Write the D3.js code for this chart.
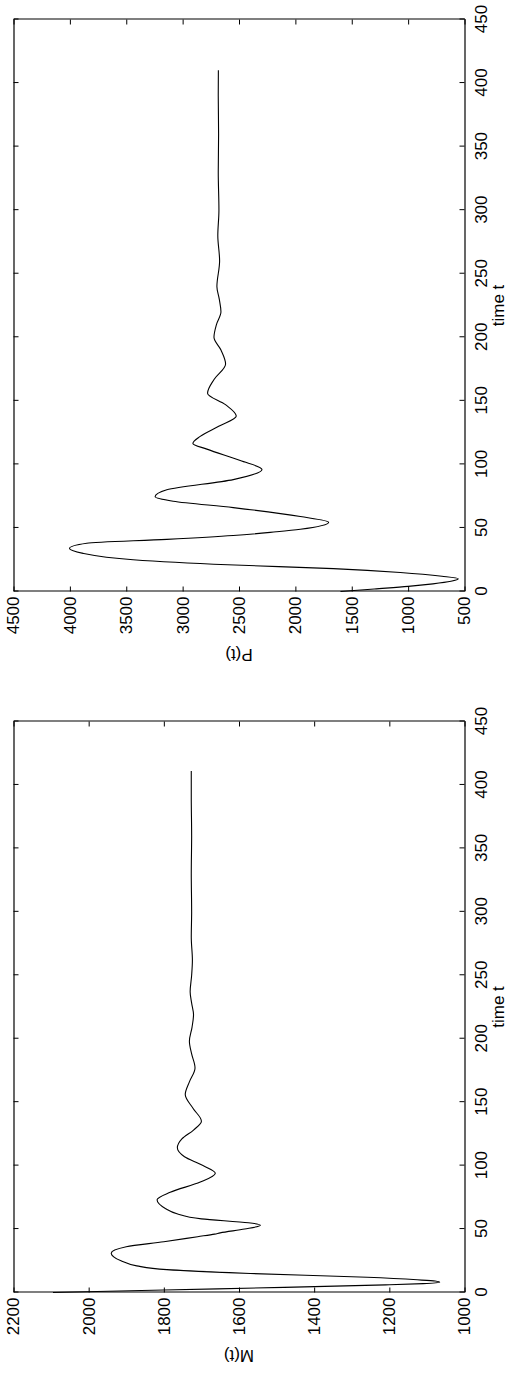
<!DOCTYPE html>
<html>
<head>
<meta charset="utf-8">
<script src="https://cdn.jsdelivr.net/npm/d3@7"></script>
<style>
  body { margin: 0; background: #fff; }
  svg { display: block; }
</style>
</head>
<body>
<script>
// time ticks shared by both panels
const timeTicks = [0, 50, 100, 150, 200, 250, 300, 350, 400, 450];
const mTicks = [1000, 1200, 1400, 1600, 1800, 2000, 2200];
const pTicks = [500, 1000, 1500, 2000, 2500, 3000, 3500, 4000, 4500];

// M(t)
const mTime = [0, 2, 4, 6, 7, 8, 9, 10, 12, 15, 18, 21, 25, 31, 36, 40, 44, 46, 47, 50, 53, 55, 58, 62, 66, 73, 79, 87, 94, 101, 107, 114, 121, 128, 135, 145, 156, 166, 177, 188, 198, 209, 219, 228, 237, 250, 262, 280, 300, 330, 360, 390, 411];
const mValues = [2095, 1800, 1480, 1210, 1110, 1066, 1078, 1126, 1259, 1570, 1792, 1872, 1914, 1940, 1900, 1800, 1710, 1665, 1650, 1585, 1543, 1575, 1700, 1765, 1795, 1818, 1783, 1703, 1663, 1703, 1745, 1764, 1752, 1721, 1700, 1722, 1743, 1732, 1717, 1726, 1732, 1725, 1721, 1726, 1730, 1726, 1724, 1727, 1726, 1727, 1726, 1727, 1727];

// P(t)
const pTime = [0, 2, 4, 6, 8, 10, 12, 15, 18, 21, 25, 30, 34, 38, 41, 44, 47, 49, 54.5, 59, 66, 71, 74.5, 80, 88, 96, 103, 112, 116.5, 122, 130, 138, 147, 156, 167, 179, 190, 200, 210, 220, 230, 240, 260, 280, 300, 330, 360, 390, 410];
const pValues = [1600, 1300, 1000, 780, 620, 555, 700, 1069, 1663, 2600, 3439, 3883, 4004, 3850, 3140, 2551, 2170, 1956, 1705, 1956, 2551, 3084, 3244, 3140, 2551, 2296, 2489, 2785, 2909, 2844, 2680, 2524, 2620, 2779, 2720, 2619, 2660, 2722, 2700, 2660, 2675, 2696, 2672, 2688, 2678, 2684, 2681, 2684, 2683];

const W = 516, H = 1378;
const font = "'Liberation Sans', Arial, Helvetica, sans-serif";
const fmt = d3.format("d");

const svg = d3.select("body").append("svg")
    .attr("width", W)
    .attr("height", H);

// the figure is drawn landscape (H wide, W tall) and then turned a quarter to the left
const fig = svg.append("g")
    .attr("transform", "translate(0," + H + ") rotate(-90)");

const plotTop = 13.5, plotBottom = 464.5;

function drawPanel(left, right, yDomain, yTicks, times, values, yLabel) {
    const x = d3.scaleLinear().domain([0, 450]).range([left, right]);
    const y = d3.scaleLinear().domain(yDomain).range([plotBottom, plotTop]);

    const g = fig.append("g");

    // ticks point inward on all four sides
    const tick = 5;
    g.append("g")
        .attr("transform", "translate(0," + plotBottom + ")")
        .call(d3.axisBottom(x).tickValues(timeTicks).tickFormat(fmt).tickSizeInner(-tick).tickSizeOuter(0).tickPadding(10));
    g.append("g")
        .attr("transform", "translate(0," + plotTop + ")")
        .call(d3.axisTop(x).tickValues(timeTicks).tickSizeInner(-tick).tickSizeOuter(0).tickFormat(""));
    g.append("g")
        .attr("transform", "translate(" + left + ",0)")
        .call(d3.axisLeft(y).tickValues(yTicks).tickFormat(fmt).tickSizeInner(-tick).tickSizeOuter(0).tickPadding(5));
    g.append("g")
        .attr("transform", "translate(" + right + ",0)")
        .call(d3.axisRight(y).tickValues(yTicks).tickSizeInner(-tick).tickSizeOuter(0).tickFormat(""));

    g.selectAll(".domain").attr("stroke", "#000").attr("stroke-width", 1.2);
    g.selectAll(".tick line").attr("stroke", "#000").attr("stroke-width", 1);
    g.selectAll(".tick text")
        .attr("font-family", font)
        .attr("font-size", 17)
        .attr("fill", "#000");

    const data = times.map((t, i) => [t, values[i]]);
    const line = d3.line()
        .x(d => x(d[0]))
        .y(d => y(d[1]))
        .curve(d3.curveMonotoneX);

    g.append("path")
        .datum(data)
        .attr("fill", "none")
        .attr("stroke", "#000")
        .attr("stroke-width", 1.1)
        .attr("d", line);

    // axis titles
    g.append("text")
        .attr("x", (left + right) / 2)
        .attr("y", 504)
        .attr("text-anchor", "middle")
        .attr("font-family", font)
        .attr("font-size", 17)
        .text("time t");

    g.append("text")
        .attr("transform", "translate(" + (left - 57) + "," + ((plotTop + plotBottom) / 2) + ") rotate(-90)")
        .attr("text-anchor", "middle")
        .attr("font-family", font)
        .attr("font-size", 17)
        .text(yLabel);
}

drawPanel(85.5, 656.5, [1000, 2200], mTicks, mTime, mValues, "M(t)");
drawPanel(786.5, 1358.5, [500, 4500], pTicks, pTime, pValues, "P(t)");
</script>
</body>
</html>
